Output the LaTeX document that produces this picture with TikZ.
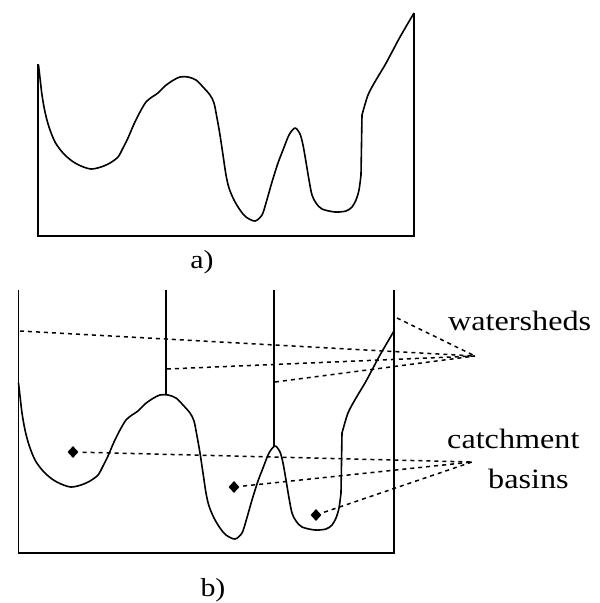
\documentclass[tikz,border=0pt]{standalone}
\usepackage{fontspec}
\setmainfont{Liberation Serif}[FakeStretch=1.15]
\usetikzlibrary{shapes.geometric}

\begin{document}
\begin{tikzpicture}[
    x=1pt, y=-1pt,
    wall/.style={line width=1.9pt},
    curve/.style={line width=1.6pt, line join=round},
    pointer/.style={line width=1.5pt, dash pattern=on 4pt off 4pt},
    basin/.style={diamond, fill, inner sep=0pt, minimum width=11pt, minimum height=12pt},
    caption/.style={font=\fontsize{26}{30}\selectfont, inner sep=0pt},
    term/.style={font=\fontsize{28}{32}\selectfont, anchor=base west, inner sep=0pt},
    relief/.pic={
        \draw[curve] plot[smooth] coordinates {(38.5,65) (40,78) (42,95) (45,112) (49,127) (55,142) (63,153) (72,161) (81,166) (91,169) (101,167) (110,163) (118,157) (123,148) (128,138) (134,124) (140,112) (146,102) (152,97) (158,93) (165,86) (172,81) (180,77) (188,77) (196,80) (203,87) (210,95) (214,103) (217,118) (220,135) (223,155) (226,175) (229,188) (234,200) (240,210) (246,217) (255,221) (262,215) (266,203) (272,182) (278,163) (283,150) (289,135) (295,128) (300,134) (303,145) (306,162) (309,180) (312,195) (316,203) (322,209) (335,212) (346,211) (352,207) (356,200) (359,190) (361,175)}
            -- plot[smooth] coordinates {(362,115) (368,95) (376,80) (385,65) (392,52) (400,37) (414,13)};
    }
]
    \useasboundingbox (0,0) rectangle (600,603);

    \draw[wall] (38,64) -- (38,236) -- (414,236) -- (414,13);
    \pic at (0,0) {relief};
    \node[caption] (capa) at (202,262) {a)};

    \draw[wall] (18.5,290) -- (18.5,553) -- (394,553) -- (394,290);
    \pic at (-20,318) {relief};
    \draw[wall] (166,290) -- (166,395);
    \draw[wall] (274,290) -- (274,447);
    \node[caption] (capb) at (213,590) {b)};

    \node[term] (ws) at (448,330) {watersheds};
    \node[term] (cm) at (447,448) {catchment};
    \node[term] (bs) at (488,488) {basins};

    \coordinate (wsTip) at (475,356);
    \coordinate (cbTip) at (472,462);
    \coordinate (edgeR) at (397,318);
    \coordinate (edgeL) at (20,331);
    \coordinate (shed1) at (167,369);
    \coordinate (shed2) at (275,382);
    \foreach \p in {edgeR, edgeL, shed1, shed2}
        \draw[pointer] (\p) -- (wsTip);

    \node[basin] (basin1) at (73,452) {};
    \node[basin] (basin2) at (234,487) {};
    \node[basin] (basin3) at (316,515) {};
    \foreach \b in {1,2,3}
        \draw[pointer, shorten <=4pt] (basin\b) -- (cbTip);
\end{tikzpicture}
\end{document}
